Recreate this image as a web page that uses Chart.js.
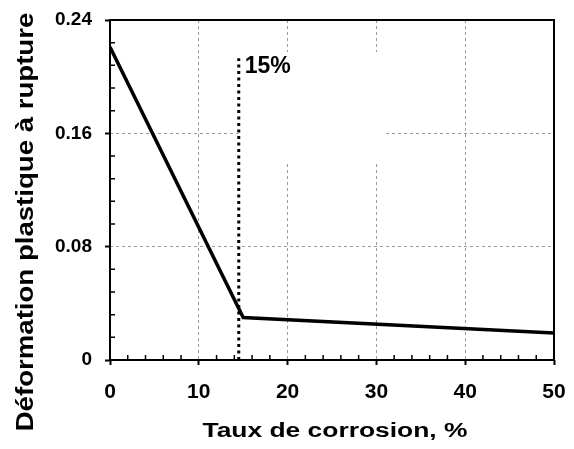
<!DOCTYPE html>
<html>
<head>
<meta charset="utf-8">
<script src="https://cdn.jsdelivr.net/npm/chart.js@4"></script>
<style>
  html, body { margin: 0; padding: 0; background: #fff; }
  #wrap { width: 574px; height: 449px; position: relative; }
</style>
</head>
<body>
<div id="wrap"><canvas id="chart"></canvas></div>
<script>
// Courbe : déformation plastique à rupture en fonction du taux de corrosion
const tauxCorrosion = [0, 15, 50];
const deformation = [0.221, 0.030, 0.019];

// Seuil vertical en pointillés (15 %)
const seuilX = [14.5, 14.5];
const seuilY = [0, 0.213];
const seuilLabel = '15%';

const xTicks = [0, 10, 20, 30, 40, 50];
const yTicks = [0, 0.08, 0.16, 0.24];
const xMinor = [2, 4, 6, 8, 12, 14, 16, 18, 22, 24, 26, 28, 32, 34, 36, 38, 42, 44, 46, 48];
const yMinor = [0.016, 0.032, 0.048, 0.064, 0.096, 0.112, 0.128, 0.144, 0.176, 0.192, 0.208, 0.224];

const xTitle = 'Taux de corrosion, %';
const yTitle = 'Déformation plastique à rupture';

const FONT = '"Liberation Sans", Arial, sans-serif';

const toPoints = (xs, ys) => xs.map((x, i) => ({ x: x, y: ys[i] }));

// white box hiding part of the grid behind the label (as in the original)
const labelBox = { x0: 14.4, x1: 31.1, y0: 0.139, y1: 0.2174 };

// draw text stretched horizontally (the original titles are wider than the font)
function stretchedText(ctx, text, stretch) {
    ctx.save();
    ctx.scale(stretch, 1);
    ctx.fillText(text, 0, 0);
    ctx.restore();
}

const decorPlugin = {
    id: 'decor',
    beforeDatasetsDraw(chart) {
        const { ctx, scales: { x, y } } = chart;
        ctx.save();
        ctx.fillStyle = '#fff';
        const l = x.getPixelForValue(labelBox.x0), r = x.getPixelForValue(labelBox.x1);
        const t = y.getPixelForValue(labelBox.y1), b = y.getPixelForValue(labelBox.y0);
        ctx.fillRect(l, t, r - l, b - t);
        ctx.restore();
    },
    afterDraw(chart) {
        const { ctx, chartArea: a, scales: { x, y } } = chart;
        ctx.save();
        // frame
        ctx.strokeStyle = '#000';
        ctx.lineWidth = 2;
        ctx.strokeRect(a.left, a.top, a.right - a.left, a.bottom - a.top);

        // minor ticks, inside
        ctx.lineWidth = 1.5;
        ctx.beginPath();
        xMinor.forEach(v => {
            const px = x.getPixelForValue(v);
            ctx.moveTo(px, a.bottom);
            ctx.lineTo(px, a.bottom - 5);
        });
        yMinor.forEach(v => {
            const py = y.getPixelForValue(v);
            ctx.moveTo(a.left, py);
            ctx.lineTo(a.left + 5, py);
        });
        ctx.stroke();

        // 15% label
        ctx.fillStyle = '#000';
        ctx.font = 'bold 23px ' + FONT;
        ctx.textAlign = 'left';
        ctx.textBaseline = 'top';
        ctx.fillText(seuilLabel, x.getPixelForValue(seuilX[0]) + 6, y.getPixelForValue(seuilY[1]) - 3);

        // axis titles
        ctx.textAlign = 'center';
        ctx.textBaseline = 'alphabetic';
        ctx.font = 'bold 20px ' + FONT;
        ctx.save();
        ctx.translate(335, 437);
        stretchedText(ctx, xTitle, 1.32);
        ctx.restore();

        ctx.save();
        ctx.translate(33, 222);
        ctx.rotate(-Math.PI / 2);
        ctx.font = 'bold 24px ' + FONT;
        stretchedText(ctx, yTitle, 1.15);
        ctx.restore();
        ctx.restore();
    }
};

new Chart(document.getElementById('chart'), {
    type: 'scatter',
    data: {
        datasets: [
            {
                data: toPoints(tauxCorrosion, deformation),
                showLine: true,
                borderColor: '#000',
                borderWidth: 3.5,
                pointRadius: 0,
                tension: 0
            },
            {
                data: toPoints(seuilX, seuilY),
                showLine: true,
                borderColor: '#000',
                borderWidth: 3,
                borderDash: [3, 3.5],
                borderCapStyle: 'butt',
                pointRadius: 0
            }
        ]
    },
    options: {
        responsive: true,
        maintainAspectRatio: false,
        animation: false,
        devicePixelRatio: 1,
        layout: { padding: { left: 0, top: 20, right: 20, bottom: 0 } },
        plugins: {
            legend: { display: false },
            tooltip: { enabled: false }
        },
        scales: {
            x: {
                type: 'linear',
                min: 0,
                max: 50,
                afterBuildTicks: s => { s.ticks = xTicks.map(v => ({ value: v })); },
                afterFit: s => { s.height = 89; s.paddingLeft = 0; s.paddingRight = 0; },
                grid: {
                    color: '#9a9a9a',
                    lineWidth: 1,
                    tickLength: 5,
                    tickColor: '#000',
                    tickWidth: 2
                },
                border: { display: false, dash: [3, 3] },
                ticks: {
                    color: '#000',
                    font: { family: FONT, size: 21, weight: 'bold' },
                    padding: 15,
                    maxRotation: 0,
                    callback: v => String(v)
                }
            },
            y: {
                type: 'linear',
                min: 0,
                max: 0.24,
                afterBuildTicks: s => { s.ticks = yTicks.map(v => ({ value: v })); },
                afterFit: s => { s.width = 110; s.paddingTop = 0; s.paddingBottom = 0; },
                grid: {
                    color: '#9a9a9a',
                    lineWidth: 1,
                    tickLength: 5,
                    tickColor: '#000',
                    tickWidth: 2
                },
                border: { display: false, dash: [3, 3] },
                ticks: {
                    color: '#000',
                    font: { family: FONT, size: 19, weight: 'bold' },
                    padding: 13,
                    callback: v => v === 0 ? '0' : v.toFixed(2)
                }
            }
        }
    },
    plugins: [decorPlugin]
});
</script>
</body>
</html>
